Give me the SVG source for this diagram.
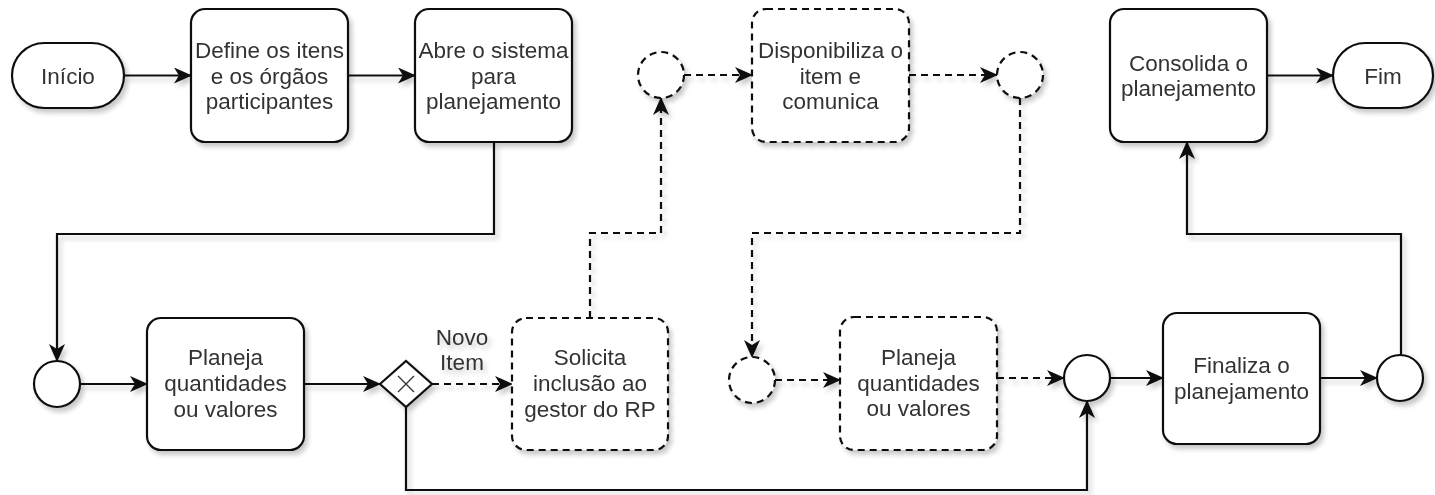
<svg xmlns="http://www.w3.org/2000/svg" width="1435" height="495" viewBox="0 0 1435 495">
<style>
.shape{fill:#fff;stroke:#111;stroke-width:2.2}
.dash{stroke-dasharray:7 5}
.t{font-family:"Liberation Sans",Arial,sans-serif;font-size:22.5px;fill:#333;text-anchor:middle}
.c{fill:none;stroke:#111;stroke-width:2.2}
.cd{fill:none;stroke:#111;stroke-width:2.2;stroke-dasharray:7 5}
.x{stroke:#333;stroke-width:1.3;fill:none}
</style>
<defs>
<filter id="sh" x="-20%" y="-20%" width="150%" height="150%">
<feGaussianBlur in="SourceAlpha" stdDeviation="2.5"/>
<feOffset dx="3" dy="4" result="b"/>
<feComponentTransfer><feFuncA type="linear" slope="0.22"/></feComponentTransfer>
<feMerge><feMergeNode/><feMergeNode in="SourceGraphic"/></feMerge>
</filter>
<marker id="ar" markerUnits="userSpaceOnUse" markerWidth="18" markerHeight="16" viewBox="0 0 18 16" refX="17" refY="8" orient="auto">
<path d="M0,0 L18,8 L0,16 L5,8 Z" fill="#111"/>
</marker>
</defs>

<g id="connectors" filter="url(#sh)">
<path class="c" d="M124,75.5 H191" marker-end="url(#ar)"/>
<path class="c" d="M348,75.5 H415" marker-end="url(#ar)"/>
<path class="c" d="M494,142 V234 H57 V361" marker-end="url(#ar)"/>
<path class="c" d="M80,384 H147" marker-end="url(#ar)"/>
<path class="c" d="M304,384 H380" marker-end="url(#ar)"/>
<path class="cd" d="M432,384 H512" marker-end="url(#ar)"/>
<path class="c" d="M406,407 V490 H1087 V401" marker-end="url(#ar)"/>
<path class="cd" d="M590,318 V233 H661 V98" marker-end="url(#ar)"/>
<path class="cd" d="M684,75 H752" marker-end="url(#ar)"/>
<path class="cd" d="M909,75 H997" marker-end="url(#ar)"/>
<path class="cd" d="M1020,98 V233 H752 V357" marker-end="url(#ar)"/>
<path class="cd" d="M775,380 H840" marker-end="url(#ar)"/>
<path class="cd" d="M997,378 H1064" marker-end="url(#ar)"/>
<path class="c" d="M1110,378 H1163" marker-end="url(#ar)"/>
<path class="c" d="M1320,378 H1377" marker-end="url(#ar)"/>
<path class="c" d="M1401,355 V234 H1187 V142" marker-end="url(#ar)"/>
<path class="c" d="M1267,75.5 H1333" marker-end="url(#ar)"/>
<text class="t" x="462" y="345">Novo</text>
<text class="t" x="462" y="370">Item</text>
</g>

<g id="inicio" filter="url(#sh)">
<rect class="shape" x="12" y="43" width="112" height="65" rx="32.5"/>
<text class="t" x="68" y="83.5">Início</text>
</g>
<g id="define" filter="url(#sh)">
<rect class="shape" x="191" y="9" width="157" height="133" rx="14"/>
<text class="t" x="269.5" y="57.5">Define os itens</text>
<text class="t" x="269.5" y="83.5">e os órgãos</text>
<text class="t" x="269.5" y="109">participantes</text>
</g>
<g id="abre" filter="url(#sh)">
<rect class="shape" x="415" y="9" width="157" height="133" rx="14"/>
<text class="t" x="493.5" y="57.5">Abre o sistema</text>
<text class="t" x="493.5" y="83.5">para</text>
<text class="t" x="493.5" y="109">planejamento</text>
</g>
<g id="evento1" filter="url(#sh)">
<circle class="shape dash" cx="661" cy="75" r="23"/>
</g>
<g id="disponibiliza" filter="url(#sh)">
<rect class="shape dash" x="752" y="9" width="157" height="133" rx="14"/>
<text class="t" x="830.5" y="57.5">Disponibiliza o</text>
<text class="t" x="830.5" y="83.5">item e</text>
<text class="t" x="830.5" y="109">comunica</text>
</g>
<g id="evento2" filter="url(#sh)">
<circle class="shape dash" cx="1020" cy="75" r="23"/>
</g>
<g id="consolida" filter="url(#sh)">
<rect class="shape" x="1110" y="9" width="157" height="133" rx="14"/>
<text class="t" x="1188.5" y="70.5">Consolida o</text>
<text class="t" x="1188.5" y="96">planejamento</text>
</g>
<g id="fim" filter="url(#sh)">
<rect class="shape" x="1333" y="43" width="100" height="65" rx="32.5"/>
<text class="t" x="1383" y="83.5">Fim</text>
</g>

<g id="evento3" filter="url(#sh)">
<circle class="shape" cx="57" cy="384" r="23"/>
</g>
<g id="planeja1" filter="url(#sh)">
<rect class="shape" x="147" y="318" width="157" height="132" rx="14"/>
<text class="t" x="225.5" y="365">Planeja</text>
<text class="t" x="225.5" y="391">quantidades</text>
<text class="t" x="225.5" y="416.5">ou valores</text>
</g>
<g id="gateway" filter="url(#sh)">
<path class="shape" d="M380,384 L406,361 L432,384 L406,407 Z"/>
<path class="x" d="M398,376 L414,392 M414,376 L398,392"/>
</g>
<g id="solicita" filter="url(#sh)">
<rect class="shape dash" x="512" y="318" width="156" height="132" rx="14"/>
<text class="t" x="590" y="365">Solicita</text>
<text class="t" x="590" y="391">inclusão ao</text>
<text class="t" x="590" y="416.5">gestor do RP</text>
</g>
<g id="evento4" filter="url(#sh)">
<circle class="shape dash" cx="752" cy="380" r="23"/>
</g>
<g id="planeja2" filter="url(#sh)">
<rect class="shape dash" x="840" y="317" width="157" height="133" rx="14"/>
<text class="t" x="918.5" y="364.5">Planeja</text>
<text class="t" x="918.5" y="390.5">quantidades</text>
<text class="t" x="918.5" y="416">ou valores</text>
</g>
<g id="evento5" filter="url(#sh)">
<circle class="shape" cx="1087" cy="378" r="23"/>
</g>
<g id="finaliza" filter="url(#sh)">
<rect class="shape" x="1163" y="313" width="157" height="131" rx="14"/>
<text class="t" x="1241.5" y="373">Finaliza o</text>
<text class="t" x="1241.5" y="399">planejamento</text>
</g>
<g id="evento6" filter="url(#sh)">
<circle class="shape" cx="1400" cy="378" r="23"/>
</g>
</svg>
